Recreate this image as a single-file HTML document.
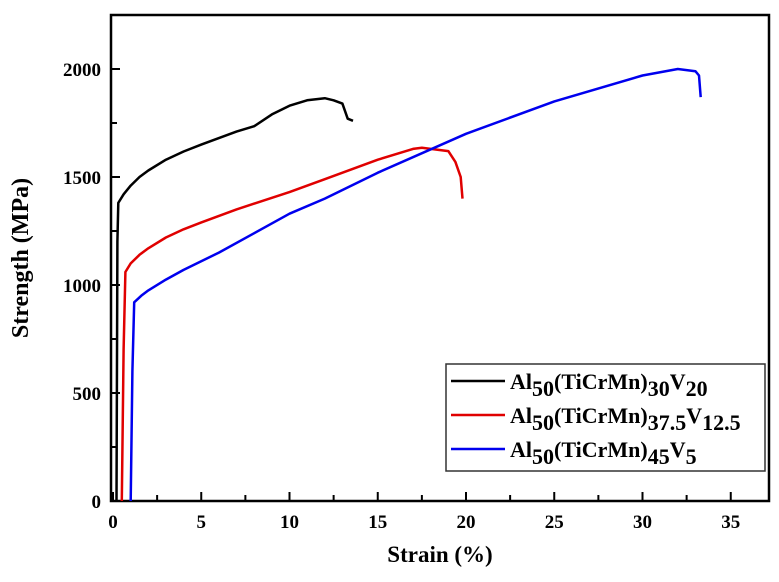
<!DOCTYPE html>
<html><head><meta charset="utf-8"><style>
body{margin:0;background:#fff;}
svg text{font-family:"Liberation Serif",serif;font-weight:bold;}
</style></head><body>
<svg id="chart" width="779" height="577" xmlns="http://www.w3.org/2000/svg">
<g id="plot"></g>
</svg>
<script>
const xTicks=[0,5,10,15,20,25,30,35];
const yTicks=[0,500,1000,1500,2000];
const blackX=[0.2,0.25,0.3,0.6,1,1.5,2,3,4,5,6,7,8,9,10,11,12,12.5,13,13.3,13.6];
const blackY=[0,1200,1380,1420,1460,1500,1530,1580,1618,1650,1680,1710,1735,1790,1830,1855,1865,1855,1840,1770,1760];
const redX=[0.5,0.6,0.7,1,1.5,2,3,4,5,7,10,12,15,17,17.5,18.5,19,19.4,19.7,19.8];
const redY=[0,700,1060,1100,1140,1170,1220,1258,1290,1350,1430,1490,1580,1630,1635,1625,1620,1570,1500,1400];
const blueX=[1.0,1.1,1.2,1.6,2,3,4,6,8,10,12,15,20,25,30,32,33,33.2,33.3];
const blueY=[0,600,920,950,975,1025,1070,1150,1240,1330,1400,1520,1700,1850,1970,2000,1990,1970,1870];
const L=111,R=769,T=15,B=501;
const xs=v=>113+v*17.65, ys=v=>501-v*0.216;
const NS="http://www.w3.org/2000/svg";
const g=document.getElementById('plot');
function mk(t,a){const e=document.createElementNS(NS,t);for(const k in a)e.setAttribute(k,a[k]);g.appendChild(e);return e;}
let e=mk('rect',{x:L,y:T,width:R-L,height:B-T,fill:'none',stroke:'#000','stroke-width':2.5});


for(let v=0;v<=37;v+=2.5){const major=v%5===0;e=mk('line',{x1:xs(v),x2:xs(v),y1:B,y2:B-(major?9:6),stroke:'#000','stroke-width':2});

}
for(let v=0;v<=2250;v+=250){const major=v%500===0;e=mk('line',{x1:L,x2:L+(major?9:6),y1:ys(v),y2:ys(v),stroke:'#000','stroke-width':2});

}
xTicks.forEach(v=>{e=mk('text',{x:xs(v),y:528,'text-anchor':'middle','font-size':19});e.textContent=v;

});
yTicks.forEach(v=>{e=mk('text',{x:101,y:ys(v)+7,'text-anchor':'end','font-size':19});e.textContent=v;

});
e=mk('text',{x:440,y:562,'text-anchor':'middle','font-size':23});e.textContent='Strain (%)';


e=mk('text',{x:0,y:0,'text-anchor':'middle','font-size':24,transform:'translate(28,258) rotate(-90)'});e.textContent='Strength (MPa)';


function series(X,Y,c,n){const d=X.map((x,i)=>(i?'L':'M')+xs(x).toFixed(1)+','+ys(Y[i]).toFixed(1)).join(' ');
const p=mk('path',{d:d,fill:'none',stroke:c,'stroke-width':2.5,'stroke-linejoin':'round'});

}
series(blackX,blackY,'#000','series-al50-v20');
series(redX,redY,'#e00000','series-al50-v12-5');
series(blueX,blueY,'#0000ee','series-al50-v5');
e=mk('rect',{x:446,y:364,width:319,height:107,fill:'#fff',stroke:'#333','stroke-width':1.5});


const leg=[['#000','30','20'],['#e00000','37.5','12.5'],['#0000ee','45','5']];
leg.forEach((l,i)=>{const y=381+i*34;
e=mk('line',{x1:451,x2:505,y1:y,y2:y,stroke:l[0],'stroke-width':2.5});


e=mk('text',{x:510,y:y+8,'font-size':22});
e.innerHTML='Al<tspan dy="7">50</tspan><tspan dy="-7">(TiCrMn)</tspan><tspan dy="7">'+l[1]+'</tspan><tspan dy="-7">V</tspan><tspan dy="7">'+l[2]+'</tspan>';

});
</script>
</body></html>
